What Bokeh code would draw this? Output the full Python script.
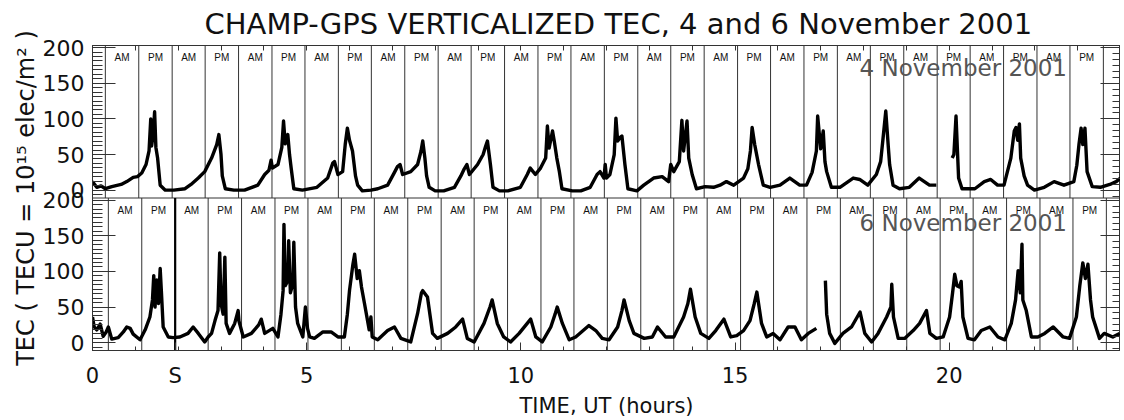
from bokeh.plotting import figure
from bokeh.models import (Range1d, LinearAxis, FixedTicker, Label, CustomJSTickFormatter)
from bokeh.embed import file_html
from bokeh.resources import INLINE
from bokeh.core.properties import value

NaN = float("nan")

# ---------------- data ----------------
title_text = "CHAMP-GPS VERTICALIZED TEC, 4 and 6 November 2001"
top_date = "4 November 2001"
bot_date = "6 November 2001"
x_label = "TIME, UT (hours)"
y_label = "TEC ( TECU = 10\u00b9\u2075 elec/m\u00b2 )"

# 4 November 2001 (UT hours, TEC)
top_time = [0.00, 0.05, 0.10, 0.20, 0.30, 0.45, 0.67, 0.80, 0.95, 1.05, 1.15, 1.25, 1.32, 1.36, 1.38, 1.42,
            1.45, 1.48, 1.52, 1.58, 1.70, 1.90, 2.16, 2.30, 2.47, 2.62, 2.78, 2.90, 2.95, 3.00, 3.03, 3.10,
            3.30, 3.55, 3.86, 4.02, 4.12, 4.17, 4.20, 4.33, 4.42, 4.46, 4.50, 4.56, 4.60, 4.64, 4.70, 4.90,
            5.24, 5.49, 5.61, 5.65, 5.73, 5.84, 5.90, 5.95, 6.00, 6.07, 6.14, 6.19, 6.30, 6.50, 6.66, 6.89,
            7.05, 7.12, 7.18, 7.24, 7.43, 7.59, 7.67, 7.71, 7.76, 7.80, 7.86, 8.00, 8.20, 8.45, 8.60, 8.68,
            8.74, 8.80, 8.99, 9.12, 9.18, 9.22, 9.29, 9.35, 9.50, 9.70, 9.99, 10.15, 10.22, 10.34, 10.46, 10.58,
            10.62, 10.66, 10.74, 10.78, 10.84, 10.90, 10.96, 11.20, 11.40, 11.62, 11.78, 11.85, 11.94, 11.97, 12.00, 12.08,
            12.18, 12.22, 12.26, 12.32, 12.36, 12.43, 12.50, 12.71, 12.87, 13.10, 13.30, 13.45, 13.50, 13.57, 13.70, 13.76,
            13.80, 13.88, 13.92, 14.00, 14.10, 14.30, 14.50, 14.65, 14.80, 14.97, 15.20, 15.30, 15.36, 15.40, 15.46, 15.55,
            15.66, 15.82, 16.05, 16.28, 16.51, 16.67, 16.80, 16.90, 16.93, 17.00, 17.06, 17.10, 17.14, 17.25, 17.45, 17.76,
            17.91, 18.10, 18.30, 18.40, 18.45, 18.52, 18.58, 18.61, 18.69, 18.84, 19.07, 19.30, 19.54, 19.70, 19.72, 20.07,
            20.11, 20.16, 20.19, 20.22, 20.30, 20.60, 20.82, 20.97, 21.13, 21.28, 21.44, 21.52, 21.56, 21.60, 21.64, 21.67,
            21.75, 21.83, 21.99, 22.22, 22.45, 22.68, 22.91, 22.98, 23.03, 23.08, 23.12, 23.17, 23.22, 23.34, 23.53, 23.75,
            23.90, 24.00]
top_tec = [12, 8, 4, 6, 2, 5, 8, 12, 18, 19, 24, 36, 55, 100, 62, 80,
           110, 60, 45, 7, 0, 0, 2, 8, 17, 26, 45, 64, 78, 50, 20, 2,
           0, 0, 7, 22, 28, 42, 31, 36, 60, 97, 65, 78, 50, 30, 2, 0,
           4, 17, 38, 40, 22, 26, 64, 87, 70, 55, 20, 7, -1, 0, 2, 7,
           25, 33, 36, 22, 26, 36, 55, 69, 45, 20, 4, -1, -1, 4, 20, 30,
           36, 22, 36, 50, 62, 69, 36, 4, -1, -1, 4, 22, 31, 22, 31, 45,
           90, 59, 83, 69, 45, 26, 2, -1, -1, 4, 22, 26, 17, 36, 17, 22,
           50, 101, 69, 74, 76, 36, 2, -1, 7, 17, 19, 12, 36, 26, 40, 98,
           55, 97, 45, 22, 2, 5, 4, 7, 12, 7, 17, 30, 55, 88, 64, 36,
           7, 4, 7, 17, 7, 7, 25, 55, 104, 58, 83, 40, 26, 4, 4, 17,
           15, 7, 22, 40, 69, 111, 60, 36, 7, 2, 4, 17, 7, 7, NaN, 45,
           50, 104, 60, 17, 2, 2, 12, 15, 7, 7, 45, 83, 88, 70, 93, 45,
           20, 7, 0, 4, 12, 7, 12, 35, 64, 87, 64, 87, 26, 5, 4, 8,
           12, 17]

# 6 November 2001 (UT hours, TEC)
bot_time = [0.00, 0.04, 0.10, 0.18, 0.25, 0.32, 0.37, 0.45, 0.60, 0.72, 0.80, 0.88, 0.95, 1.11, 1.23, 1.34,
            1.40, 1.43, 1.46, 1.50, 1.54, 1.58, 1.61, 1.65, 1.77, 1.88, 2.04, 2.23, 2.35, 2.47, 2.62, 2.70,
            2.78, 2.86, 2.93, 2.97, 3.00, 3.05, 3.09, 3.12, 3.20, 3.32, 3.40, 3.42, 3.52, 3.71, 3.88, 3.94,
            4.02, 4.21, 4.33, 4.40, 4.45, 4.47, 4.50, 4.56, 4.58, 4.62, 4.68, 4.70, 4.74, 4.79, 4.91, 4.97,
            5.02, 5.07, 5.18, 5.38, 5.57, 5.73, 5.88, 5.95, 6.00, 6.08, 6.12, 6.18, 6.23, 6.28, 6.35, 6.46,
            6.50, 6.53, 6.66, 6.89, 7.05, 7.20, 7.43, 7.59, 7.68, 7.71, 7.82, 7.94, 8.05, 8.29, 8.48, 8.64,
            8.75, 8.91, 9.14, 9.28, 9.33, 9.45, 9.60, 9.76, 9.96, 10.23, 10.35, 10.50, 10.70, 10.80, 10.85, 10.97,
            11.13, 11.28, 11.59, 11.75, 11.90, 12.06, 12.26, 12.36, 12.41, 12.53, 12.64, 12.88, 13.07, 13.19, 13.38, 13.57,
            13.80, 13.90, 13.96, 14.07, 14.20, 14.39, 14.55, 14.74, 14.90, 15.04, 15.20, 15.35, 15.45, 15.51, 15.62, 15.74,
            15.89, 16.05, 16.24, 16.40, 16.55, 16.71, 16.90, 16.95, 17.11, 17.14, 17.21, 17.33, 17.52, 17.72, 17.92, 18.03,
            18.19, 18.34, 18.54, 18.64, 18.66, 18.70, 18.81, 18.96, 19.16, 19.31, 19.47, 19.55, 19.70, 19.86, 20.01, 20.08,
            20.13, 20.18, 20.24, 20.28, 20.32, 20.44, 20.59, 20.75, 20.95, 21.14, 21.30, 21.45, 21.55, 21.61, 21.66, 21.70,
            21.72, 21.80, 21.92, 22.07, 22.23, 22.43, 22.66, 22.81, 22.97, 23.05, 23.12, 23.18, 23.24, 23.30, 23.35, 23.51,
            23.62, 23.82, 23.98]
bot_tec = [36, 22, 18, 26, 9, 15, 22, 5, 7, 15, 22, 20, 12, 4, 18, 36,
           60, 94, 50, 88, 55, 104, 70, 22, 8, 7, 8, 13, 22, 13, 1, 8,
           13, 31, 45, 126, 55, 40, 120, 27, 13, 27, 45, 30, 8, 13, 25, 33,
           13, 20, 8, 40, 73, 166, 80, 87, 143, 70, 83, 141, 50, 27, 8, 50,
           20, 8, 6, 15, 15, 8, 8, 40, 73, 110, 124, 90, 101, 78, 55, 18,
           36, 8, 4, 17, 22, 6, 1, 41, 70, 73, 64, 13, 6, 13, 22, 33,
           6, 1, 27, 50, 60, 27, 8, 1, 13, 33, 8, 1, 22, 40, 50, 27,
           4, 8, 24, 17, 6, 4, 22, 45, 60, 31, 13, 6, 8, 22, 8, 8,
           36, 55, 75, 36, 13, 6, 17, 33, 8, 10, 17, 31, 55, 71, 27, 8,
           13, 4, 22, 22, 4, 13, 20, NaN, 87, 40, 13, -1, 13, 22, 43, 13,
           1, 13, 36, 50, 82, 36, 6, 6, 17, 27, 45, 13, 6, 8, 36, 70,
           96, 80, 78, 86, 36, 6, 4, 17, 22, 8, 4, 27, 60, 101, 70, 138,
           60, 45, 8, 8, 13, 22, 8, 6, 36, 80, 112, 90, 110, 60, 36, 6,
           13, 8, 13]

# half-orbit boundaries (UT hours) and the AM/PM labels of the segments between them
top_bounds = [0.30, 1.08, 1.86, 2.63, 3.41, 4.19, 4.96, 5.74, 6.51, 7.29, 8.07, 8.84, 9.62, 10.40, 11.17, 11.95,
              12.73, 13.50, 14.28, 15.06, 15.83, 16.61, 17.39, 18.16, 18.94, 19.72, 20.49, 21.27, 22.05, 22.82, 23.60]
bot_bounds = [0.37, 1.15, 1.93, 2.70, 3.48, 4.26, 5.03, 5.81, 6.58, 7.36, 8.14, 8.91, 9.69, 10.47, 11.24, 12.02,
              12.80, 13.57, 14.35, 15.13, 15.90, 16.68, 17.46, 18.23, 19.01, 19.79, 20.56, 21.34, 22.12, 22.89, 23.67]
seg_labels = ["AM", "PM"] * 15
storm_time = 1.93
storm_text = "S"

y_major = [0, 50, 100, 150, 200]
x_major = [0, 5, 10, 15, 20]
x_minor = list(range(0, 25))

# ---------------- layout constants ----------------
FONT = "DejaVu Sans"
Y_LO, Y_HI = -11, 203
SPAN = Y_HI - Y_LO
INK = "#333333"
TXT = "#111111"

p = figure(frame_width=1028, frame_height=305,
           x_range=Range1d(0, 24), y_range=Range1d(Y_LO, Y_HI + SPAN),
           output_backend="svg", toolbar_location=None,
           min_border_left=92, min_border_right=0, min_border_top=0, min_border_bottom=0,
           background_fill_color="white", border_fill_color="white")
p.extra_y_ranges = {"top": Range1d(Y_LO - SPAN, Y_HI)}
p.grid.visible = False
p.outline_line_color = INK
p.outline_line_width = 1

# ---- title
p.title.text = title_text
p.title.text_font = FONT
p.title.text_font_size = "29px"
p.title.text_font_style = "normal"
p.title.text_color = TXT
p.title.align = "left"
p.title.offset = 112
p.title.standoff = 9


def tick_only_axis(ticks, length):
    """An axis that draws only inward tick marks (no labels)."""
    return LinearAxis(ticker=FixedTicker(ticks=[], minor_ticks=ticks),
                      minor_tick_in=length, minor_tick_out=0, major_tick_in=0, major_tick_out=0,
                      major_label_standoff=0, axis_line_color=INK, minor_tick_line_color=INK)


# ---- bottom x axis (labels, plus the storm marker "S")
xa = p.xaxis[0]
xa.ticker = FixedTicker(ticks=x_major + [storm_time], minor_ticks=x_minor)
xa.formatter = CustomJSTickFormatter(
    code=f"return Math.abs(tick - {storm_time}) < 1e-6 ? '{storm_text}' : tick.toFixed(0);")
xa.major_tick_in = 8
xa.major_tick_out = 0
xa.minor_tick_in = 4
xa.minor_tick_out = 0
xa.axis_line_color = INK
xa.major_tick_line_color = INK
xa.minor_tick_line_color = INK
xa.major_label_text_font = FONT
xa.major_label_text_font_size = "21px"
xa.major_label_text_color = TXT
xa.major_label_standoff = 13
xa.axis_label = x_label
xa.axis_label_text_font = FONT
xa.axis_label_text_font_size = "21px"
xa.axis_label_text_font_style = "normal"
xa.axis_label_text_color = TXT
xa.axis_label_standoff = 3

# ---- top x axis (ticks only)
p.add_layout(tick_only_axis(x_minor, 5), "above")

# ---- left y axis: both panels share one axis, the upper panel is offset by SPAN
majors = y_major + [v + SPAN for v in y_major]
left_minor = []
right_minor = []
for base in (0, SPAN):
    k = -1
    while k * 6.25 <= Y_HI:
        if Y_LO <= k * 6.25:
            left_minor.append(base + k * 6.25)
        k += 1
    k = -1
    while k * (50 / 6) <= Y_HI:
        if Y_LO <= k * (50 / 6):
            right_minor.append(base + k * (50 / 6))
        k += 1

ya = p.yaxis[0]
ya.ticker = FixedTicker(ticks=majors, minor_ticks=left_minor)
ya.formatter = CustomJSTickFormatter(code=f"return (tick > {Y_HI} ? tick - {SPAN} : tick).toFixed(0);")
ya.major_tick_in = 23
ya.major_tick_out = 0
ya.minor_tick_in = 10
ya.minor_tick_out = 0
ya.axis_line_color = INK
ya.major_tick_line_color = INK
ya.minor_tick_line_color = INK
ya.major_label_text_font = FONT
ya.major_label_text_font_size = "22px"
ya.major_label_text_color = TXT
ya.major_label_standoff = 8
ya.axis_label = y_label
ya.axis_label_text_font = FONT
ya.axis_label_text_font_size = "24px"
ya.axis_label_text_font_style = "normal"
ya.axis_label_text_color = TXT
ya.axis_label_standoff = 0

# ---- right y axis: ticks only (minor and major drawn by two tick-only axes)
p.add_layout(tick_only_axis(right_minor, 8), "right")
p.add_layout(tick_only_axis(majors, 20), "right")

# ---- panel separator
p.line(x=[0, 24], y=[Y_HI, Y_HI], line_color=INK, line_width=1)

# ---- half-orbit boundaries
p.segment(x0=top_bounds, y0=[Y_LO] * len(top_bounds), x1=top_bounds, y1=[Y_HI] * len(top_bounds),
          y_range_name="top", line_color=INK, line_width=1)
p.segment(x0=bot_bounds, y0=[Y_LO] * len(bot_bounds), x1=bot_bounds, y1=[Y_HI] * len(bot_bounds),
          line_color=INK, line_width=1)
p.segment(x0=[storm_time], y0=[Y_LO], x1=[storm_time], y1=[Y_HI], line_color="black", line_width=2.2)

# ---- AM / PM labels
top_mid = [(a + b) / 2 for a, b in zip(top_bounds[:-1], top_bounds[1:])]
bot_mid = [(a + b) / 2 for a, b in zip(bot_bounds[:-1], bot_bounds[1:])]
p.text(x=top_mid, y=[186] * len(top_mid), text=seg_labels, y_range_name="top",
       text_font=value("Liberation Sans"), text_font_size="10px", text_color=TXT,
       text_align="center", text_baseline="middle")
p.text(x=bot_mid, y=[185] * len(bot_mid), text=seg_labels,
       text_font=value("Liberation Sans"), text_font_size="10px", text_color=TXT,
       text_align="center", text_baseline="middle")

# ---- TEC data
p.line(top_time, top_tec, y_range_name="top", line_color="black", line_width=3.4, line_join="round")
p.line(bot_time, bot_tec, line_color="black", line_width=3.4, line_join="round")

# ---- date labels
p.add_layout(Label(x=22.75, y=171, y_range_name="top", text=top_date, text_font=FONT,
                   text_font_size="23px", text_color="#555555", text_align="right",
                   text_baseline="middle"))
p.add_layout(Label(x=22.75, y=168, text=bot_date, text_font=FONT,
                   text_font_size="23px", text_color="#555555", text_align="right",
                   text_baseline="middle"))

open("out.html", "w").write(file_html(p, INLINE))
